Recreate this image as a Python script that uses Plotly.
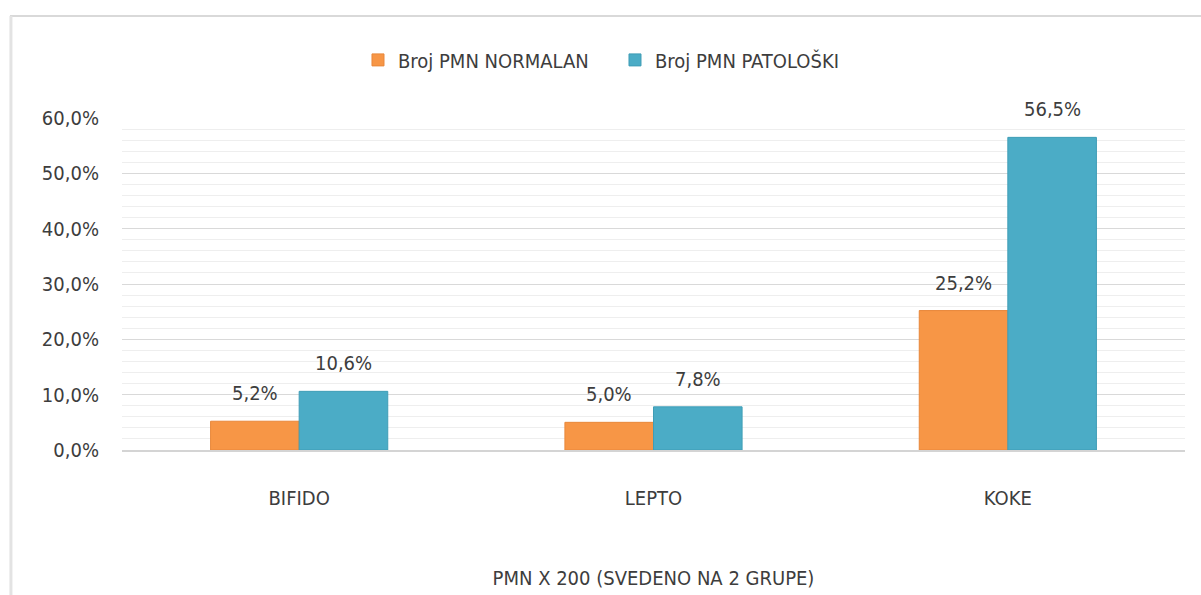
import plotly.graph_objects as go

# Categories and series (percent values)
categories = ["BIFIDO", "LEPTO", "KOKE"]
normalan = [5.2, 5.0, 25.2]
patoloski = [10.6, 7.8, 56.5]
series_names = ["Broj PMN NORMALAN", "Broj PMN PATOLOŠKI"]
x_title = "PMN X 200 (SVEDENO NA 2 GRUPE)"
y_ticks = [0, 10, 20, 30, 40, 50, 60]
y_ticktext = [f"{v:.1f}%".replace(".", ",") for v in y_ticks]

FONT = "DejaVu Sans Condensed, Liberation Sans Narrow, sans-serif"
TEXT = "#3d3d3d"
ORANGE = "#F79646"
BLUE = "#4BACC6"

fig = go.Figure()
fig.add_trace(go.Bar(
    x=categories, y=normalan, name=series_names[0],
    marker=dict(color=ORANGE, line=dict(color="#E8873A", width=1)),
))
fig.add_trace(go.Bar(
    x=categories, y=patoloski, name=series_names[1],
    marker=dict(color=BLUE, line=dict(color="#3F9DB6", width=1)),
))

# value labels above each bar
bar_px = 89
for vals, shift in ((normalan, -bar_px / 2), (patoloski, bar_px / 2)):
    for cat, v in zip(categories, vals):
        fig.add_annotation(
            x=cat, y=v, xref="x", yref="y",
            text=f"{v:.1f}%".replace(".", ","),
            showarrow=False, xshift=shift, yshift=28,
            yanchor="middle", xanchor="center",
            font=dict(family=FONT, size=20, color=TEXT),
        )

# light frame (top and left edges)
fig.add_shape(type="line", xref="paper", yref="paper",
              x0=-0.1054, x1=1.02, y0=1.307, y1=1.307,
              line=dict(color="#d9d9d9", width=2))
fig.add_shape(type="line", xref="paper", yref="paper",
              x0=-0.1045, x1=-0.1045, y0=1.307, y1=-0.45,
              line=dict(color="#e3e3e3", width=3))

fig.update_layout(
    width=1201, height=595,
    margin=dict(l=122, r=16, t=118, b=145),
    paper_bgcolor="white", plot_bgcolor="white",
    barmode="group", bargap=0.5, bargroupgap=0,
    font=dict(family=FONT, size=20, color=TEXT),
    legend=dict(
        orientation="h", x=0.222, xanchor="left", y=1.175, yanchor="middle",
        font=dict(family=FONT, size=20, color=TEXT),
        itemwidth=30, tracegroupgap=0, entrywidth=212,
    ),
    xaxis=dict(
        showgrid=False, ticks="", showline=True, linecolor="#d4d4d4", linewidth=2,
        ticklabelstandoff=29, automargin=False,
        tickfont=dict(family=FONT, size=20, color=TEXT),
        title=dict(text=x_title, standoff=62,
                   font=dict(family=FONT, size=20, color=TEXT)),
    ),
    yaxis=dict(
        range=[0, 60], tickvals=y_ticks, ticktext=y_ticktext,
        showgrid=True, gridcolor="#d9d9d9", gridwidth=1,
        minor=dict(dtick=2, showgrid=True, gridcolor="#eeeeee", gridwidth=1),
        zeroline=False, ticks="", ticklabelstandoff=22, automargin=False,
        tickfont=dict(family=FONT, size=20, color=TEXT),
    ),
)

fig.write_html("out.html")
